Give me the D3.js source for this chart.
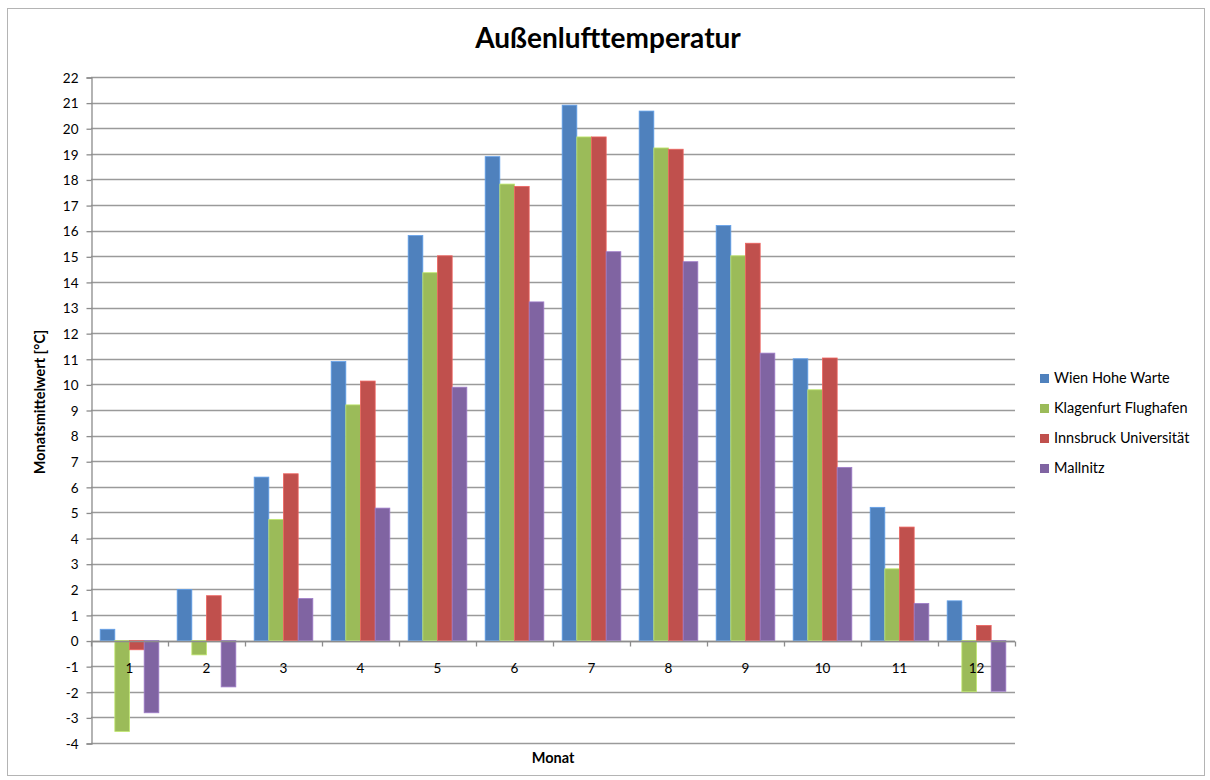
<!DOCTYPE html>
<html>
<head>
<meta charset="utf-8">
<script src="https://cdn.jsdelivr.net/npm/d3@7"></script>
<style>
  html, body { margin: 0; padding: 0; background: #fff; }
  svg text { font-family: Lato, "Open Sans", "Noto Sans", sans-serif; fill: #000; }
</style>
</head>
<body>
<svg id="chart" width="1210" height="780"></svg>
<script>
// Monthly mean outdoor air temperature (°C) per station
const months = ["1", "2", "3", "4", "5", "6", "7", "8", "9", "10", "11", "12"];
const seriesNames = ["Wien Hohe Warte", "Klagenfurt Flughafen", "Innsbruck Universität", "Mallnitz"];
const wien       = [0.44, 1.99, 6.38, 10.89, 15.81, 18.89, 20.90, 20.67, 16.20, 11.00, 5.20, 1.55];
const klagenfurt = [-3.55, -0.56, 4.73, 9.20, 14.36, 17.82, 19.66, 19.23, 15.02, 9.79, 2.80, -2.00];
const innsbruck  = [-0.36, 1.75, 6.51, 10.13, 15.02, 17.73, 19.66, 19.18, 15.51, 11.03, 4.43, 0.59];
const mallnitz   = [-2.82, -1.81, 1.64, 5.17, 9.89, 13.22, 15.18, 14.79, 11.22, 6.76, 1.45, -1.98];
const yTicks = d3.range(-4, 23, 1);
const colors = ["#4F81BD", "#9BBB59", "#C0504D", "#8064A2"];

const seriesValues = [wien, klagenfurt, innsbruck, mallnitz];

const svg = d3.select("#chart");
const plot = { left: 91, right: 1015, top: 77, bottom: 743 };

// chart area frame
svg.append("rect")
  .attr("x", 7.5).attr("y", 8.5).attr("width", 1197).attr("height", 767)
  .attr("fill", "#fff").attr("stroke", "#b4b4b4").attr("stroke-width", 1);

const y = d3.scaleLinear().domain([-4, 22]).range([plot.bottom, plot.top]);
const x0 = d3.scaleBand().domain(months).range([plot.left, plot.right]).padding(0);
const catW = x0.bandwidth();
const barW = catW / 5.25;          // gap width 125 %
const x1 = d3.scaleBand().domain(seriesNames)
  .range([barW * 0.625, catW - barW * 0.625]).padding(0);

// horizontal gridlines
svg.append("g").selectAll("line").data(yTicks).join("line")
  .attr("x1", plot.left).attr("x2", plot.right)
  .attr("y1", d => Math.round(y(d)) + 0.5).attr("y2", d => Math.round(y(d)) + 0.5)
  .attr("stroke", "#9a9a9a").attr("stroke-width", 1.3);

// y axis (plain hyphen for negative numbers)
const yAxis = d3.axisLeft(y).tickValues(yTicks).tickSize(5).tickPadding(8).tickFormat(d => String(d));
const gy = svg.append("g").attr("transform", `translate(${plot.left + 0.5},0.5)`).call(yAxis);
gy.select(".domain").attr("stroke", "#8c8c8c").attr("stroke-width", 1.3);
gy.selectAll(".tick line").attr("stroke", "#8c8c8c").attr("stroke-width", 1.3);
gy.selectAll(".tick text").attr("font-size", 13.5).attr("dy", "0.35em").attr("fill", "#000");

// bars
const groups = svg.append("g").selectAll("g").data(months).join("g")
  .attr("transform", d => `translate(${x0(d)},0)`);
groups.selectAll("rect")
  .data((m, i) => seriesNames.map((s, k) => ({ s, k, v: seriesValues[k][i] })))
  .join("rect")
  .attr("x", d => x1(d.s))
  .attr("width", x1.bandwidth())
  .attr("y", d => y(Math.max(0, d.v)))
  .attr("height", d => Math.abs(y(d.v) - y(0)))
  .attr("fill", d => colors[d.k])
  .attr("stroke", d => d3.color(colors[d.k]).brighter(0.6))
  .attr("stroke-width", 0.8);

// category axis along zero line
const zeroY = Math.round(y(0)) + 0.5;
svg.append("line")
  .attr("x1", plot.left).attr("x2", plot.right)
  .attr("y1", zeroY).attr("y2", zeroY)
  .attr("stroke", "#8c8c8c").attr("stroke-width", 1.3);
const boundaries = months.map(m => x0(m)).concat([plot.right]);
svg.append("g").selectAll("line").data(boundaries).join("line")
  .attr("x1", d => Math.round(d) + 0.5).attr("x2", d => Math.round(d) + 0.5)
  .attr("y1", zeroY).attr("y2", zeroY + 5)
  .attr("stroke", "#8c8c8c").attr("stroke-width", 1.3);

// month labels
svg.append("g").selectAll("text").data(months).join("text")
  .attr("x", d => x0(d) + catW / 2)
  .attr("y", zeroY + 27)
  .attr("text-anchor", "middle").attr("dy", "0.35em")
  .attr("font-size", 13.5)
  .text(d => d);

// title
svg.append("text")
  .attr("x", 608).attr("y", 48)
  .attr("text-anchor", "middle")
  .attr("font-size", 28).attr("font-weight", "bold")
  .text("Außenlufttemperatur");

// axis titles
svg.append("text")
  .attr("x", 553).attr("y", 758).attr("dy", "0.35em")
  .attr("text-anchor", "middle")
  .attr("font-size", 14.5).attr("font-weight", "bold")
  .text("Monat");

svg.append("text")
  .attr("transform", "translate(40,402) rotate(-90)")
  .attr("dy", "0.35em")
  .attr("text-anchor", "middle")
  .attr("font-size", 14.5).attr("font-weight", "bold")
  .text("Monatsmittelwert [°C]");

// legend
const legend = svg.append("g").selectAll("g").data(seriesNames).join("g")
  .attr("transform", (d, i) => `translate(1040,${378 + i * 30})`);
legend.append("rect")
  .attr("x", 0).attr("y", -4).attr("width", 9).attr("height", 9)
  .attr("fill", (d, i) => colors[i]);
legend.append("text")
  .attr("x", 14).attr("y", 0).attr("dy", "0.35em")
  .attr("font-size", 14.5)
  .text(d => d);
</script>
</body>
</html>
